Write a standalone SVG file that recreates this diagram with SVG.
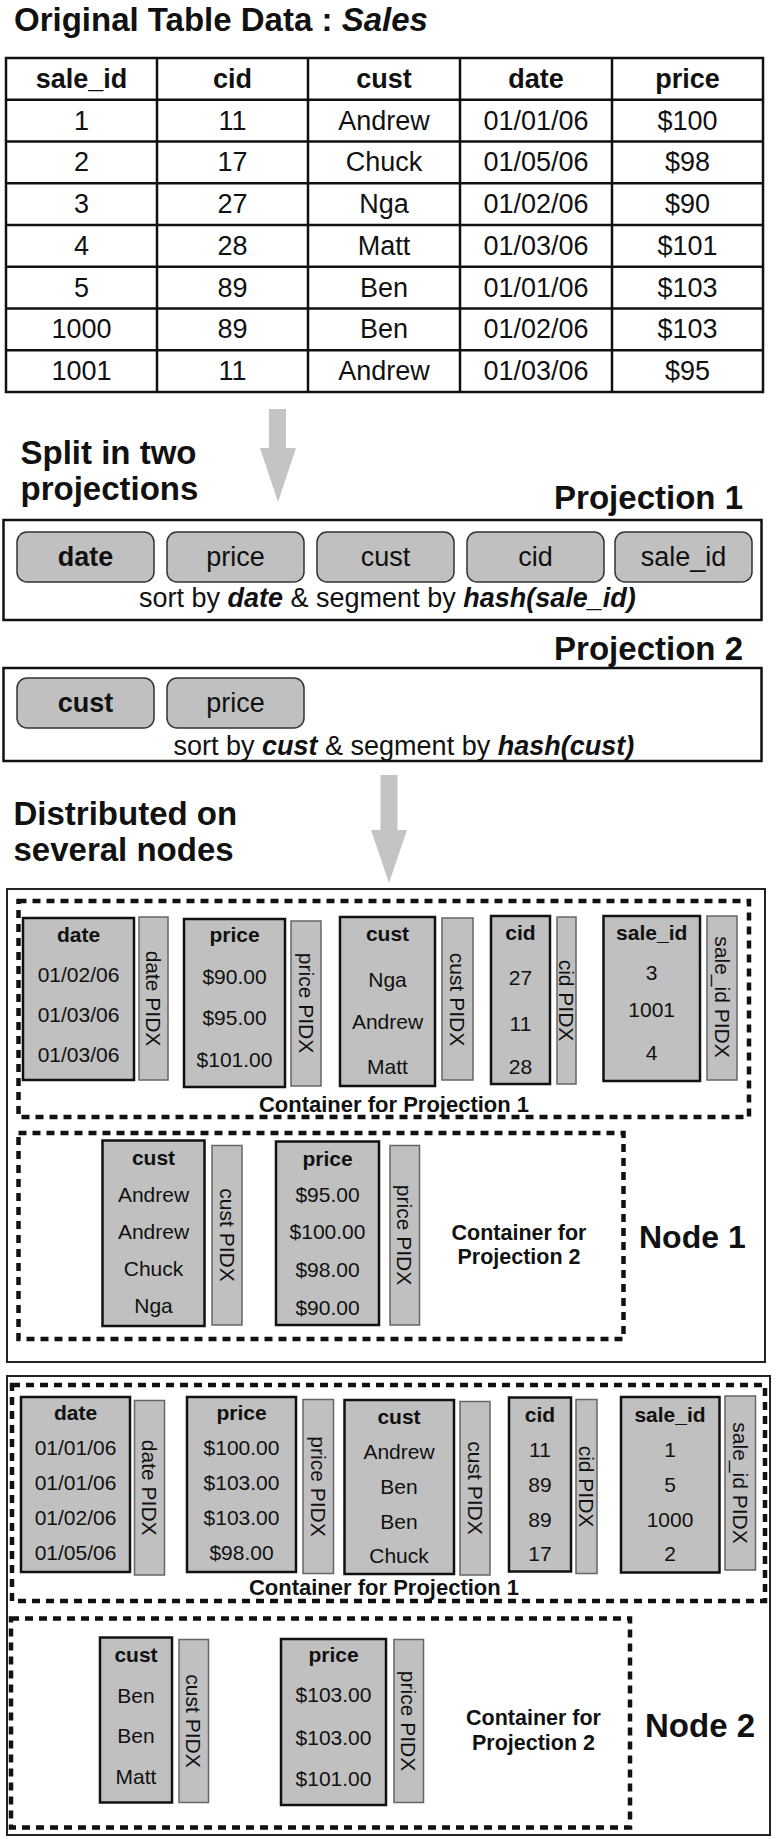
<svg xmlns="http://www.w3.org/2000/svg" width="776" height="1839" viewBox="0 0 776 1839">
<style>
text{font-family:"Liberation Sans",Arial,Helvetica,sans-serif;fill:#111}
.b{font-weight:bold}
.bi{font-weight:bold;font-style:italic}
.c{text-anchor:middle}
.h1{font-size:33px;font-weight:bold}
.tb{font-size:27px}
.n{font-size:21px}
.rot{font-size:21px;text-anchor:middle;dominant-baseline:central}
.col{fill:#c0c0c0;stroke:#111;stroke-width:2.5}
.pidx{fill:#c0c0c0;stroke:#666;stroke-width:1.5}
.pill{fill:#c0c0c0;stroke:#333;stroke-width:1.5}
.box{fill:#fff;stroke:#111;stroke-width:2.5}
.node{fill:none;stroke:#222;stroke-width:2}
.dash{fill:none;stroke:#111;stroke-width:4.5;stroke-dasharray:8 6}
.arrow{fill:#c4c4c4}
.grid{stroke:#111;stroke-width:2.5;fill:none}
</style>
<rect width="776" height="1839" fill="#fff"/>

<g id="title">
<text x="14" y="31" class="h1">Original Table Data : <tspan class="bi">Sales</tspan></text>
</g>

<g id="sales-table">
<rect x="6" y="58" width="757" height="334" class="grid"/>
<path class="grid" d="M157 58V392M308 58V392M460 58V392M612 58V392M6 99.75H763M6 141.5H763M6 183.25H763M6 225H763M6 266.75H763M6 308.5H763M6 350.25H763"/>
<g class="tb c">
<text x="81.5" y="88" class="b">sale_id</text><text x="232.5" y="88" class="b">cid</text><text x="384" y="88" class="b">cust</text><text x="536" y="88" class="b">date</text><text x="687.5" y="88" class="b">price</text>
<text x="81.5" y="129.5">1</text><text x="232.5" y="129.5">11</text><text x="384" y="129.5">Andrew</text><text x="536" y="129.5">01/01/06</text><text x="687.5" y="129.5">$100</text>
<text x="81.5" y="171.3">2</text><text x="232.5" y="171.3">17</text><text x="384" y="171.3">Chuck</text><text x="536" y="171.3">01/05/06</text><text x="687.5" y="171.3">$98</text>
<text x="81.5" y="213">3</text><text x="232.5" y="213">27</text><text x="384" y="213">Nga</text><text x="536" y="213">01/02/06</text><text x="687.5" y="213">$90</text>
<text x="81.5" y="254.8">4</text><text x="232.5" y="254.8">28</text><text x="384" y="254.8">Matt</text><text x="536" y="254.8">01/03/06</text><text x="687.5" y="254.8">$101</text>
<text x="81.5" y="296.5">5</text><text x="232.5" y="296.5">89</text><text x="384" y="296.5">Ben</text><text x="536" y="296.5">01/01/06</text><text x="687.5" y="296.5">$103</text>
<text x="81.5" y="338.3">1000</text><text x="232.5" y="338.3">89</text><text x="384" y="338.3">Ben</text><text x="536" y="338.3">01/02/06</text><text x="687.5" y="338.3">$103</text>
<text x="81.5" y="380">1001</text><text x="232.5" y="380">11</text><text x="384" y="380">Andrew</text><text x="536" y="380">01/03/06</text><text x="687.5" y="380">$95</text>
</g>
</g>

<g id="connectors">
<polygon class="arrow" points="269,409 286,409 286,448 296,448 278,502 260,448 269,448"/>
<polygon class="arrow" points="380.5,775 397.5,775 397.5,830 407,830 389,883 371,830 380.5,830"/>
</g>

<g id="split-label">
<text x="20.5" y="464" class="h1">Split in two</text>
<text x="20.5" y="500" class="h1">projections</text>
</g>

<g id="projection1">
<text x="743" y="509" class="h1" text-anchor="end">Projection 1</text>
<rect x="3.5" y="520" width="758" height="100" class="box"/>
<rect x="17" y="532" width="137" height="50" rx="10" class="pill"/>
<rect x="167" y="532" width="137" height="50" rx="10" class="pill"/>
<rect x="317" y="532" width="137" height="50" rx="10" class="pill"/>
<rect x="467" y="532" width="137" height="50" rx="10" class="pill"/>
<rect x="615" y="532" width="137" height="50" rx="10" class="pill"/>
<g class="tb c">
<text x="85.5" y="565.5" class="b">date</text><text x="235.5" y="565.5">price</text><text x="385.5" y="565.5">cust</text><text x="535.5" y="565.5">cid</text><text x="683.5" y="565.5">sale_id</text>
</g>
<text x="139" y="607" class="tb">sort by <tspan class="bi">date</tspan> &amp; segment by <tspan class="bi">hash(sale_id)</tspan></text>
</g>

<g id="projection2">
<text x="743" y="659.5" class="h1" text-anchor="end">Projection 2</text>
<rect x="3.5" y="668" width="758" height="93" class="box"/>
<rect x="17" y="678" width="137" height="50" rx="10" class="pill"/>
<rect x="167" y="678" width="137" height="50" rx="10" class="pill"/>
<g class="tb c">
<text x="85.5" y="711.5" class="b">cust</text><text x="235.5" y="711.5">price</text>
</g>
<text x="173.5" y="754.5" class="tb">sort by <tspan class="bi">cust</tspan> &amp; segment by <tspan class="bi">hash(cust)</tspan></text>
</g>

<g id="distributed-label">
<text x="13.5" y="825" class="h1">Distributed on</text>
<text x="13.5" y="861" class="h1">several nodes</text>
</g>

<g id="node1">
<rect x="7" y="889" width="758" height="473" class="node"/>
<g id="node1-container1">
<rect x="18.5" y="901" width="730.5" height="216" class="dash"/>
<rect x="23" y="918" width="111" height="162" class="col"/>
<rect x="139" y="917" width="29" height="163" class="pidx"/>
<rect x="184" y="919" width="101" height="168" class="col"/>
<rect x="291" y="921" width="30" height="165" class="pidx"/>
<rect x="340" y="917" width="95" height="169" class="col"/>
<rect x="442" y="918" width="31" height="162" class="pidx"/>
<rect x="491" y="916" width="59" height="168" class="col"/>
<rect x="557" y="917" width="19" height="167" class="pidx"/>
<rect x="603.5" y="916" width="96.5" height="165" class="col"/>
<rect x="707" y="916" width="30" height="164" class="pidx"/>
<g class="n c">
<text x="78.5" y="941.5" class="b">date</text><text x="78.5" y="981.5">01/02/06</text><text x="78.5" y="1021.5">01/03/06</text><text x="78.5" y="1061.5">01/03/06</text>
<text x="234.5" y="941.5" class="b">price</text><text x="234.5" y="983.5">$90.00</text><text x="234.5" y="1025">$95.00</text><text x="234.5" y="1066.5">$101.00</text>
<text x="387.5" y="941" class="b">cust</text><text x="387.5" y="987">Nga</text><text x="387.5" y="1028.5">Andrew</text><text x="387.5" y="1073.5">Matt</text>
<text x="520.5" y="940" class="b">cid</text><text x="520.5" y="985">27</text><text x="520.5" y="1030.5">11</text><text x="520.5" y="1074">28</text>
<text x="651.7" y="940" class="b">sale_id</text><text x="651.7" y="980">3</text><text x="651.7" y="1017">1001</text><text x="651.7" y="1060">4</text>
</g>
<text class="rot" transform="translate(153.5 998.5) rotate(90)">date PIDX</text>
<text class="rot" transform="translate(306 1003) rotate(90)">price PIDX</text>
<text class="rot" transform="translate(457.5 999.5) rotate(90)">cust PIDX</text>
<text class="rot" transform="translate(566.5 1000.5) rotate(90)">cid PIDX</text>
<text class="rot" transform="translate(722 997) rotate(90)">sale_id PIDX</text>
<text x="394" y="1111.5" class="b c" font-size="22">Container for Projection 1</text>
</g>
<g id="node1-container2">
<rect x="18.5" y="1133" width="605" height="206" class="dash"/>
<rect x="102.5" y="1140.5" width="102" height="185.5" class="col"/>
<rect x="212" y="1145.5" width="30" height="179.5" class="pidx"/>
<rect x="276" y="1141.5" width="103" height="183.5" class="col"/>
<rect x="390" y="1145.5" width="29.5" height="179.5" class="pidx"/>
<g class="n c">
<text x="153.5" y="1165" class="b">cust</text><text x="153.5" y="1202">Andrew</text><text x="153.5" y="1239">Andrew</text><text x="153.5" y="1276">Chuck</text><text x="153.5" y="1313">Nga</text>
<text x="327.5" y="1166" class="b">price</text><text x="327.5" y="1201.5">$95.00</text><text x="327.5" y="1239">$100.00</text><text x="327.5" y="1277">$98.00</text><text x="327.5" y="1314.5">$90.00</text>
</g>
<text class="rot" transform="translate(227 1235) rotate(90)">cust PIDX</text>
<text class="rot" transform="translate(404.8 1235) rotate(90)">price PIDX</text>
<text x="519" y="1240" class="b c" font-size="21.5">Container for</text>
<text x="519" y="1263.5" class="b c" font-size="21.5">Projection 2</text>
</g>
<text x="639" y="1248" class="b" font-size="32">Node 1</text>
</g>

<g id="node2">
<rect x="7" y="1376" width="763" height="459" class="node"/>
<g id="node2-container1">
<rect x="12" y="1385" width="753" height="216" class="dash"/>
<rect x="21" y="1397" width="109" height="175" class="col"/>
<rect x="134.5" y="1400.5" width="30" height="174.5" class="pidx"/>
<rect x="187" y="1397" width="109" height="175" class="col"/>
<rect x="303" y="1399.5" width="30.5" height="174" class="pidx"/>
<rect x="344.5" y="1400" width="109.5" height="174" class="col"/>
<rect x="460" y="1401.5" width="30" height="173.5" class="pidx"/>
<rect x="509" y="1397.5" width="62" height="174" class="col"/>
<rect x="576" y="1399.5" width="21" height="174" class="pidx"/>
<rect x="621" y="1397" width="98.5" height="175.5" class="col"/>
<rect x="725" y="1396" width="30.5" height="174" class="pidx"/>
<g class="n c">
<text x="75.5" y="1420" class="b">date</text><text x="75.5" y="1455">01/01/06</text><text x="75.5" y="1490">01/01/06</text><text x="75.5" y="1525">01/02/06</text><text x="75.5" y="1560">01/05/06</text>
<text x="241.5" y="1420" class="b">price</text><text x="241.5" y="1455">$100.00</text><text x="241.5" y="1490">$103.00</text><text x="241.5" y="1525">$103.00</text><text x="241.5" y="1560">$98.00</text>
<text x="399" y="1424" class="b">cust</text><text x="399" y="1459">Andrew</text><text x="399" y="1494">Ben</text><text x="399" y="1529">Ben</text><text x="399" y="1563">Chuck</text>
<text x="540" y="1421.5" class="b">cid</text><text x="540" y="1457">11</text><text x="540" y="1492">89</text><text x="540" y="1527">89</text><text x="540" y="1561">17</text>
<text x="670" y="1421.5" class="b">sale_id</text><text x="670" y="1457">1</text><text x="670" y="1492">5</text><text x="670" y="1527">1000</text><text x="670" y="1561">2</text>
</g>
<text class="rot" transform="translate(149.5 1487.7) rotate(90)">date PIDX</text>
<text class="rot" transform="translate(318 1486.5) rotate(90)">price PIDX</text>
<text class="rot" transform="translate(475 1488) rotate(90)">cust PIDX</text>
<text class="rot" transform="translate(586.5 1486.5) rotate(90)">cid PIDX</text>
<text class="rot" transform="translate(740 1483) rotate(90)">sale_id PIDX</text>
<text x="384" y="1595" class="b c" font-size="22">Container for Projection 1</text>
</g>
<g id="node2-container2">
<rect x="11" y="1618.5" width="619" height="209" class="dash"/>
<rect x="100" y="1637.5" width="72" height="165" class="col"/>
<rect x="179" y="1639.5" width="29.5" height="163" class="pidx"/>
<rect x="281" y="1639" width="105" height="166" class="col"/>
<rect x="394" y="1639.5" width="29.5" height="163" class="pidx"/>
<g class="n c">
<text x="136" y="1662" class="b">cust</text><text x="136" y="1702.5">Ben</text><text x="136" y="1743">Ben</text><text x="136" y="1784">Matt</text>
<text x="333.5" y="1662" class="b">price</text><text x="333.5" y="1702">$103.00</text><text x="333.5" y="1745">$103.00</text><text x="333.5" y="1786">$101.00</text>
</g>
<text class="rot" transform="translate(193.7 1721) rotate(90)">cust PIDX</text>
<text class="rot" transform="translate(408.7 1721) rotate(90)">price PIDX</text>
<text x="533.5" y="1725" class="b c" font-size="21.5">Container for</text>
<text x="533.5" y="1749.5" class="b c" font-size="21.5">Projection 2</text>
</g>
<text x="645" y="1737" class="b" font-size="33">Node 2</text>
</g>
</svg>
